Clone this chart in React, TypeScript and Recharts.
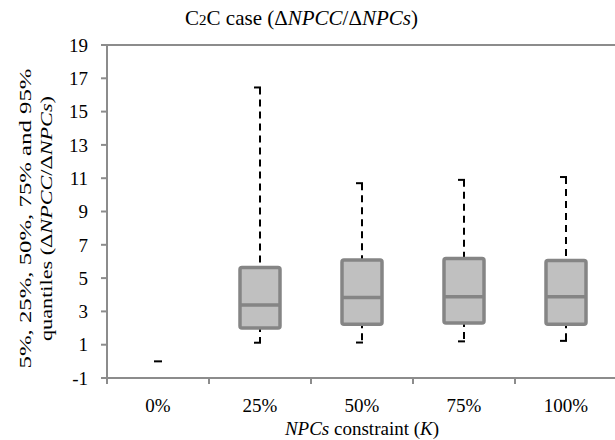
import React from "react";
import {
  ComposedChart,
  Bar,
  XAxis,
  YAxis,
  ReferenceLine,
  Label,
} from "recharts";

const categories = ["0%", "25%", "50%", "75%", "100%"];
const p5 = [0, 1.12, 1.13, 1.2, 1.23];
const q25 = [0, 2.0, 2.23, 2.3, 2.23];
const median = [0, 3.38, 3.84, 3.88, 3.88];
const q75 = [0, 5.63, 6.09, 6.17, 6.05];
const p95 = [0, 16.45, 10.7, 10.9, 11.07];
const yTicks = [-1, 1, 3, 5, 7, 9, 11, 13, 15, 17, 19];

const data = categories.map((name, i) => ({
  name,
  p5: p5[i],
  q25: q25[i],
  median: median[i],
  q75: q75[i],
  p95: p95[i],
}));

const FONT = "Liberation Serif";
const AXIS = "#8c8c8c";
const BOX_FILL = "#c0c0c0";
const BOX_STROKE = "#858585";
const textStyle = { fontFamily: FONT };

const BoxShape = (props: any) => {
  const { x, y, width, height, payload } = props;
  const cx = x + width / 2;
  const span = payload.p95 - payload.p5;
  if (!span) {
    return (
      <line x1={cx - 4} x2={cx + 4} y1={y} y2={y} stroke="#000" strokeWidth={2} />
    );
  }
  const py = (v: number) => y + ((payload.p95 - v) * height) / span;
  const top = py(payload.q75);
  const bottom = py(payload.q25);
  const dash = "7 5";
  return (
    <g>
      <line x1={cx} x2={cx} y1={py(payload.p95)} y2={top} stroke="#000" strokeWidth={2} strokeDasharray={dash} />
      <line x1={cx} x2={cx} y1={bottom} y2={py(payload.p5)} stroke="#000" strokeWidth={2} strokeDasharray={dash} strokeDashoffset={3} />
      <line x1={cx - 6} x2={cx + 1} y1={py(payload.p95)} y2={py(payload.p95)} stroke="#000" strokeWidth={2} />
      <line x1={cx - 6} x2={cx + 1} y1={py(payload.p5)} y2={py(payload.p5)} stroke="#000" strokeWidth={2} />
      <rect
        x={x}
        y={top}
        width={width}
        height={bottom - top}
        rx={2}
        fill={BOX_FILL}
        stroke={BOX_STROKE}
        strokeWidth={3.5}
      />
      <line x1={x} x2={x + width} y1={py(payload.median)} y2={py(payload.median)} stroke={BOX_STROKE} strokeWidth={3.5} />
    </g>
  );
};

const XTick = (props: any) => {
  const { x, y, payload, index } = props;
  const half = payload.offset ?? 0;
  return (
    <g>
      <line x1={x - half} x2={x - half} y1={y} y2={y + 6} stroke={AXIS} strokeWidth={2} />
      {index === categories.length - 1 && (
        <line x1={x + half} x2={x + half} y1={y} y2={y + 6} stroke={AXIS} strokeWidth={2} />
      )}
      <text x={x} y={y + 34} textAnchor="middle" fontSize={19} style={textStyle} fill="#000">
        {payload.value}
      </text>
    </g>
  );
};

const YLabel = (props: any) => {
  const { x, y, height } = props.viewBox;
  const cy = y + height / 2 + 7;
  return (
    <g fontSize={17} fill="#000" style={textStyle}>
      <text
        x={x + 25}
        y={cy}
        textAnchor="middle"
        dominantBaseline="central"
        transform={`rotate(-90, ${x + 25}, ${cy})`}
        textLength={300}
        lengthAdjust="spacingAndGlyphs"
        style={textStyle}
      >
        5%, 25%, 50%, 75% and 95%
      </text>
      <text
        x={x + 46}
        y={cy}
        textAnchor="middle"
        dominantBaseline="central"
        transform={`rotate(-90, ${x + 46}, ${cy})`}
        textLength={245}
        lengthAdjust="spacingAndGlyphs"
        style={textStyle}
      >
        quantiles (Δ<tspan fontStyle="italic">NPCC</tspan>/Δ<tspan fontStyle="italic">NPCs</tspan>)
      </text>
    </g>
  );
};

const XLabel = (props: any) => {
  const { x, y, width } = props.viewBox;
  return (
    <text x={x + width / 2} y={y + 57} textAnchor="middle" fontSize={19} fill="#000" style={textStyle}>
      <tspan fontStyle="italic">NPCs</tspan> constraint (<tspan fontStyle="italic">K</tspan>)
    </text>
  );
};

export default function App() {
  return (
    <div
      style={{
        position: "absolute",
        left: 0,
        top: 0,
        width: 615,
        height: 440,
        overflow: "hidden",
        background: "#fff",
        fontFamily: FONT,
      }}
    >
      <div
        style={{
          position: "absolute",
          left: 0,
          top: 6,
          width: 603,
          textAlign: "center",
          fontSize: 21,
          lineHeight: "24px",
          color: "#000",
        }}
      >
        C<span style={{ fontSize: 15 }}>2</span>C case (Δ<i>NPCC</i>/Δ<i>NPCs</i>)
      </div>
      <ComposedChart
        width={620}
        height={440}
        data={data}
        margin={{ top: 45, right: 3, bottom: 0, left: 0 }}
        style={textStyle}
      >
        <XAxis
          dataKey="name"
          height={62}
          axisLine={{ stroke: AXIS, strokeWidth: 2 }}
          tickLine={false}
          tickSize={0}
          tickMargin={0}
          tick={<XTick />}
          interval={0}
        >
          <Label content={<XLabel />} />
        </XAxis>
        <YAxis
          width={107}
          domain={[-1, 19]}
          ticks={yTicks}
          type="number"
          allowDataOverflow
          axisLine={{ stroke: AXIS, strokeWidth: 2 }}
          tickLine={{ stroke: AXIS, strokeWidth: 2 }}
          tickSize={6}
          tickMargin={13}
          tick={{ fill: "#000", fontSize: 19, fontFamily: FONT, style: textStyle }}
        >
          <Label content={<YLabel />} />
        </YAxis>
        <ReferenceLine y={19} stroke={AXIS} strokeWidth={2} />
        <Bar
          dataKey={(d: any) => [d.p5, d.p95]}
          barSize={40}
          shape={<BoxShape />}
          isAnimationActive={false}
        />
      </ComposedChart>
    </div>
  );
}
